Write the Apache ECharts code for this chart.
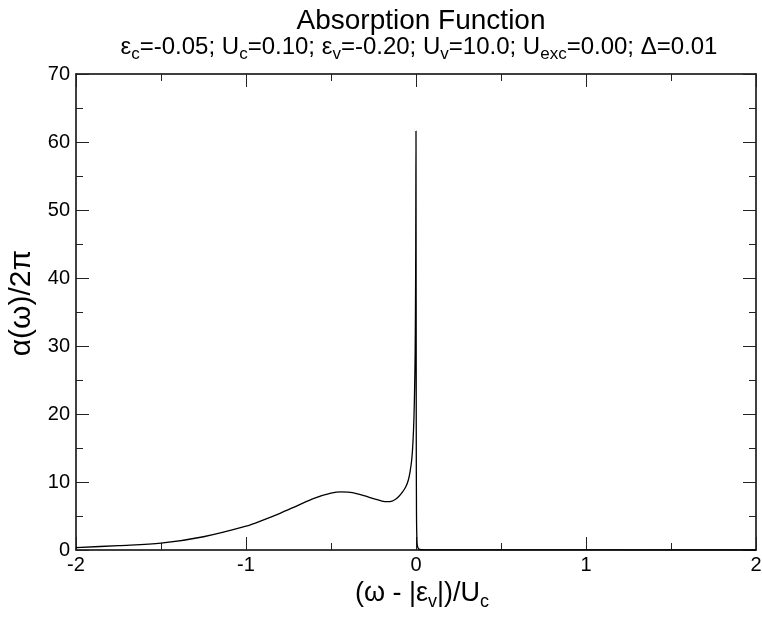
<!DOCTYPE html>
<html>
<head>
<meta charset="utf-8">
<script src="https://cdn.jsdelivr.net/npm/echarts@6/dist/echarts.min.js"></script>
<style>html,body{margin:0;padding:0;background:#fff}#c{width:762px;height:617px}</style>
</head>
<body>
<div id="c"></div>
<script>
// Data
const xValues = [-2, -1.75, -1.5, -1.25, -1.0, -0.9, -0.8, -0.7, -0.6, -0.5, -0.44, -0.4, -0.35, -0.3, -0.25, -0.2, -0.17, -0.14, -0.12, -0.1, -0.08, -0.06, -0.045, -0.035, -0.025, -0.018, -0.012, -0.008, -0.005, -0.003, -0.0015, 0, 0.0015, 0.003, 0.006, 0.01, 0.02, 0.05, 2];
const yValues = [0.35, 0.65, 1.0, 1.95, 3.5, 4.4, 5.4, 6.5, 7.6, 8.35, 8.55, 8.5, 8.3, 7.95, 7.55, 7.2, 7.1, 7.2, 7.45, 7.9, 8.5, 9.3, 10.3, 11.5, 13.3, 15.8, 19.5, 24, 29, 36, 45, 61.6, 18, 5, 1.2, 0.4, 0.1, 0.02, 0];
const xTicks = [-2, -1, 0, 1, 2];
const yTicks = [0, 10, 20, 30, 40, 50, 60, 70];

const seriesData = xValues.map((x, i) => [x, yValues[i]]);
const FONT = 'Liberation Sans, Arial, Helvetica, sans-serif';

const chart = echarts.init(document.getElementById('c'), null, {renderer: 'canvas'});

const mainStyle = {fontSize: 24, fontFamily: FONT, fontWeight: 'normal', color: '#000'};
const subStyle = {fontSize: 17, fontFamily: FONT, fontWeight: 'normal', color: '#000', padding: [14, 0, 0, 0]};

const baseX = {
  type: 'value', min: xTicks[0], max: xTicks[xTicks.length - 1], interval: 1,
  axisLine: {show: true, onZero: false, lineStyle: {color: '#000', width: 1.5}},
  axisTick: {show: true, inside: true, length: 13, lineStyle: {color: '#222', width: 1}},
  minorTick: {show: true, splitNumber: 2, length: 7, lineStyle: {color: '#222', width: 1}},
  splitLine: {show: false}
};
const baseY = {
  type: 'value', min: yTicks[0], max: yTicks[yTicks.length - 1], interval: 10,
  axisLine: {show: true, onZero: false, lineStyle: {color: '#000', width: 1.5}},
  axisTick: {show: true, inside: true, length: 13, lineStyle: {color: '#222', width: 1}},
  minorTick: {show: true, splitNumber: 2, length: 7, lineStyle: {color: '#222', width: 1}},
  splitLine: {show: false}
};

chart.setOption({
  backgroundColor: '#fff',
  animation: false,
  title: [
    {
      text: 'Absorption Function',
      left: 416, top: 2, textAlign: 'center',
      textStyle: {fontSize: 28, fontFamily: FONT, fontWeight: 'normal', color: '#000'}
    },
    {
      text: '{m|ε}{s|c}{m|=-0.05; U}{s|c}{m|=0.10; ε}{s|v}{m|=-0.20; U}{s|v}{m|=10.0; U}{s|exc}{m|=0.00; Δ=0.01}',
      left: 414, top: 27, textAlign: 'center',
      textStyle: {fontWeight: 'normal', rich: {m: mainStyle, s: subStyle}}
    },
    {
      text: '{m|(ω - |ε}{s|v}{m||)/U}{s|c}',
      left: 417, top: 572, textAlign: 'center',
      textStyle: {fontWeight: 'normal', rich: {
        m: {fontSize: 27, fontFamily: FONT, fontWeight: 'normal', color: '#000'},
        s: {fontSize: 18, fontFamily: FONT, fontWeight: 'normal', color: '#000', padding: [16, 0, 0, 0]}}}
    }
  ],
  grid: {left: 76, right: 6, top: 74, bottom: 67, containLabel: false, outerBoundsMode: 'none'},
  xAxis: [
    Object.assign({}, baseX, {
      position: 'bottom',
      axisLabel: {show: true, margin: 5, fontSize: 20, fontFamily: FONT, color: '#000',
        formatter: v => xTicks.indexOf(v) >= 0 ? String(v) : ''}
    }),
    Object.assign({}, baseX, {position: 'top', axisLabel: {show: false}})
  ],
  yAxis: [
    Object.assign({}, baseY, {
      position: 'left',
      name: 'α(ω)/2π', nameLocation: 'middle', nameGap: 36, nameRotate: 90,
      nameTextStyle: {fontSize: 30, fontFamily: FONT, color: '#000', padding: [0, 0, 0, 18]},
      axisLabel: {show: true, margin: 6, fontSize: 20, fontFamily: FONT, color: '#000',
        formatter: v => yTicks.indexOf(v) >= 0 ? String(v) : ''}
    }),
    Object.assign({}, baseY, {position: 'right', axisLabel: {show: false}})
  ],
  series: [{
    type: 'line',
    data: seriesData,
    xAxisIndex: 0, yAxisIndex: 0,
    showSymbol: false,
    smooth: 0.3,
    lineStyle: {color: '#000', width: 1.3},
    clip: true
  }]
});
</script>
</body>
</html>
